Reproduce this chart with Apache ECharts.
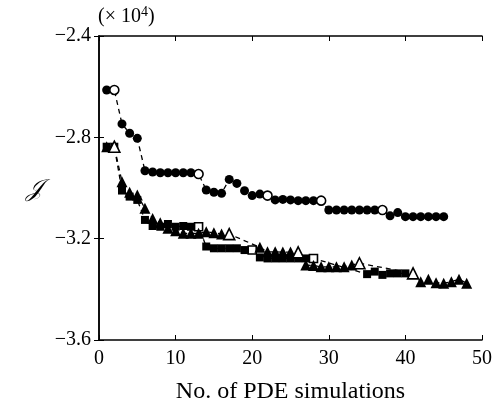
<!DOCTYPE html>
<html><head><meta charset="utf-8">
<script src="https://cdn.jsdelivr.net/npm/echarts@6/dist/echarts.min.js"></script>
<style>html,body{margin:0;padding:0;background:#fff}#c{width:494px;height:404px}</style>
</head><body><div id="c"></div>
<script>
// values in units of 10^4
const xTicks = [0, 10, 20, 30, 40, 50];
const yTicks = [-3.6, -3.2, -2.8, -2.4];

const circleX = [1,2,3,4,5,6,7,8,9,10,11,12,13,14,15,16,17,18,19,20,21,22,23,24,25,26,27,28,29,30,31,32,33,34,35,36,37,38,39,40,41,42,43,44,45];
const circleY = [-2.613,-2.613,-2.747,-2.784,-2.804,-2.932,-2.937,-2.940,-2.940,-2.940,-2.940,-2.940,-2.945,-3.008,-3.017,-3.021,-2.966,-2.982,-3.011,-3.030,-3.024,-3.030,-3.047,-3.045,-3.047,-3.050,-3.050,-3.050,-3.050,-3.087,-3.087,-3.087,-3.087,-3.087,-3.087,-3.087,-3.087,-3.110,-3.097,-3.113,-3.113,-3.113,-3.113,-3.113,-3.113];
const circleOpen = [2,13,22,29,37];

const triX = [1,2,3,4,5,6,7,8,9,10,11,12,13,14,15,16,17,21,22,23,24,25,26,27,28,29,30,31,32,33,34,41,42,43,44,45,46,47,48];
const triY = [-2.837,-2.837,-2.975,-3.017,-3.028,-3.080,-3.120,-3.137,-3.159,-3.169,-3.179,-3.179,-3.179,-3.173,-3.177,-3.182,-3.182,-3.234,-3.252,-3.252,-3.253,-3.253,-3.254,-3.304,-3.306,-3.311,-3.311,-3.311,-3.311,-3.304,-3.297,-3.337,-3.370,-3.360,-3.374,-3.376,-3.370,-3.360,-3.376];
const triOpen = [2,17,26,34,41];

const sqX = [1,2,3,4,5,6,7,8,9,10,11,12,13,14,15,16,17,18,19,20,21,22,23,24,25,26,27,28,35,36,37,38,39,40];
const sqY = [-2.837,-2.837,-3.010,-3.034,-3.047,-3.126,-3.150,-3.153,-3.142,-3.153,-3.150,-3.153,-3.153,-3.231,-3.238,-3.238,-3.238,-3.238,-3.245,-3.245,-3.274,-3.278,-3.278,-3.278,-3.278,-3.278,-3.278,-3.278,-3.340,-3.330,-3.343,-3.337,-3.337,-3.337];
const sqOpen = [13,20,28];

function pts(xs, ys, open) {
  return xs.map((x, i) => {
    const d = { value: [x, ys[i]] };
    if (open.indexOf(x) >= 0) d.itemStyle = { color: '#fff', borderColor: '#000', borderWidth: 1.6 };
    return d;
  });
}
const FONT = '"Liberation Serif", "DejaVu Serif", serif';
const fmtY = v => (v < 0 ? '\u2212' : '') + Math.abs(v).toFixed(1);

function mkSeries(name, data, symbol, size, z) {
  return {
    name, type: 'line', data, symbol, symbolSize: size, z,
    lineStyle: { color: '#000', width: 1.3, type: [5, 4] },
    itemStyle: { color: '#000', borderColor: '#000', borderWidth: 0 },
    emphasis: { disabled: true }, animation: false
  };
}

const chart = echarts.init(document.getElementById('c'));
chart.setOption({
  animation: false,
  backgroundColor: '#fff',
  grid: { left: 99, right: 12, top: 36, bottom: 64, containLabel: false, outerBoundsMode: 'none' },
  xAxis: [
    { type: 'value', min: 0, max: 50, interval: 10, position: 'bottom',
      axisLine: { lineStyle: { color: '#000', width: 1.5 } },
      axisTick: { inside: true, length: 5, lineStyle: { color: '#000' } },
      axisLabel: { color: '#000', fontFamily: FONT, fontSize: 20, margin: 9 },
      splitLine: { show: false },
      name: 'No. of PDE simulations', nameLocation: 'middle', nameGap: 40,
      nameTextStyle: { color: '#000', fontFamily: FONT, fontSize: 24 } },
    { type: 'value', min: 0, max: 50, interval: 10, position: 'top',
      axisLine: { lineStyle: { color: '#000', width: 1.5 } },
      axisTick: { inside: true, length: 5, lineStyle: { color: '#000' } },
      axisLabel: { show: false }, splitLine: { show: false } }
  ],
  yAxis: [
    { type: 'value', min: -3.6, max: -2.4, interval: 0.4, position: 'left',
      axisLine: { show: true, lineStyle: { color: '#000', width: 1.5 } },
      axisTick: { show: true, inside: true, length: 5, lineStyle: { color: '#000' } },
      axisLabel: { color: '#000', fontFamily: FONT, fontSize: 20, margin: 8, formatter: fmtY },
      splitLine: { show: false } },
    { type: 'value', min: -3.6, max: -2.4, interval: 0.4, position: 'right',
      axisLine: { show: true, lineStyle: { color: '#000', width: 1.5 } },
      axisTick: { show: true, inside: true, length: 5, lineStyle: { color: '#000' } },
      axisLabel: { show: false }, splitLine: { show: false } }
  ],
  graphic: [
    { type: 'text', left: 98, top: 5, style: { text: '{a|(\u00d7 10}{s|4}{a|)}', rich: { a: { fontSize: 20, fontFamily: FONT, fill: '#000', verticalAlign: 'bottom', lineHeight: 22 }, s: { fontSize: 14, fontFamily: FONT, fill: '#000', verticalAlign: 'top', lineHeight: 22 } } } },
    { type: 'text', left: 26, top: 178, style: { text: '\ud835\udca5', font: 'italic 24px ' + FONT, fill: '#000' } }
  ],
  series: [
    mkSeries('sq', pts(sqX, sqY, sqOpen), 'rect', 8, 2),
    mkSeries('tri', pts(triX, triY, triOpen), 'triangle', 11, 3),
    mkSeries('circ', pts(circleX, circleY, circleOpen), 'circle', 9, 4)
  ]
});
</script></body></html>
